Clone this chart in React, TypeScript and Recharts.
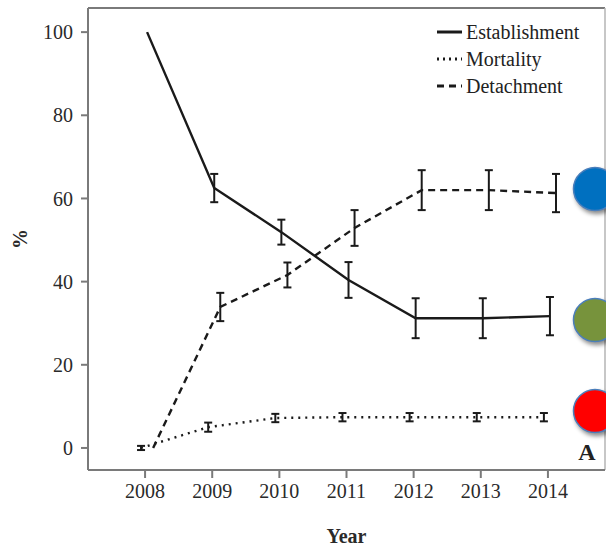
import React from 'react';
import { LineChart, Line, XAxis, YAxis, ErrorBar, ReferenceLine } from 'recharts';

const years = [2008, 2009, 2010, 2011, 2012, 2013, 2014];
const establishment = [100, 62.5, 51.9, 40.4, 31.2, 31.2, 31.7];
const establishmentErr = [0, 3.4, 3.0, 4.3, 4.8, 4.8, 4.6];
const mortality = [0, 5.0, 7.2, 7.4, 7.4, 7.4, 7.4];
const mortalityErr = [0.5, 1.1, 1.0, 1.0, 1.0, 1.0, 1.0];
const detachment = [0, 33.9, 41.6, 52.9, 62.0, 62.0, 61.3];
const detachmentErr = [0, 3.4, 3.0, 4.3, 4.8, 4.8, 4.6];
const yTicks = [0, 20, 40, 60, 80, 100];
const seriesNames = ['Establishment', 'Mortality', 'Detachment'];
const panelLabel = 'A';

const data = years.map((y, i) => ({
  year: y,
  establishment: establishment[i],
  establishmentErr: establishmentErr[i],
  mortality: mortality[i],
  mortalityErr: mortalityErr[i],
  detachment: detachment[i],
  detachmentErr: detachmentErr[i],
}));

const FONT = '"Liberation Serif", "Times New Roman", serif';
const AXIS = '#7a7a7a';
const INK = '#1a1a1a';
const X_DOMAIN: [number, number] = [2007.15, 2014.85];
const Y_DOMAIN: [number, number] = [-5.3, 105.8];

const dashes = ['', '2 4', '7 5'];

export default function App() {
  return (
    <div style={{ position: 'absolute', left: 0, top: 0, width: 606, height: 548, background: '#fff' }}>
      <LineChart width={606} height={548} data={data} margin={{ top: 8, right: 1, left: 0, bottom: 0 }}>
        <XAxis
          xAxisId="main"
          dataKey="year"
          type="number"
          domain={X_DOMAIN}
          allowDataOverflow
          ticks={years}
          height={78}
          tickSize={8}
          tickMargin={6}
          stroke={AXIS}
          strokeWidth={2}
          tick={{ fontFamily: FONT, fontSize: 20, fill: '#2a2a2a' }}
          label={{ value: 'Year', position: 'insideBottom', offset: 5, style: { fontFamily: FONT, fontSize: 20, fontWeight: 'bold', fill: '#2a2a2a' } }}
        />
        <XAxis xAxisId="est" orientation="top" height={0} dataKey="year" type="number" domain={[2007.12, 2014.82]} allowDataOverflow hide />
        <XAxis xAxisId="mor" orientation="top" height={0} dataKey="year" type="number" domain={[2007.21, 2014.91]} allowDataOverflow hide />
        <XAxis xAxisId="det" orientation="top" height={0} dataKey="year" type="number" domain={[2007.03, 2014.73]} allowDataOverflow hide />
        <YAxis
          type="number"
          domain={Y_DOMAIN}
          allowDataOverflow
          ticks={yTicks}
          width={88}
          tickSize={7}
          tickMargin={8}
          stroke={AXIS}
          strokeWidth={2}
          tick={{ fontFamily: FONT, fontSize: 20, fill: '#2a2a2a' }}
          label={{ value: '%', angle: -90, position: 'insideLeft', offset: 20, style: { fontFamily: FONT, fontSize: 20, fontWeight: 'bold', fill: '#2a2a2a', textAnchor: 'middle' } }}
        />
        <ReferenceLine xAxisId="main" y={Y_DOMAIN[1]} stroke={AXIS} strokeWidth={2} />
        <ReferenceLine xAxisId="main" x={X_DOMAIN[1]} stroke="#b5b5b5" strokeWidth={1.5} />
        <Line xAxisId="est" dataKey="establishment" name={seriesNames[0]} stroke={INK} strokeWidth={2.4} dot={false} isAnimationActive={false} type="linear">
          <ErrorBar dataKey="establishmentErr" direction="y" width={4} stroke={INK} strokeWidth={2} isAnimationActive={false} />
        </Line>
        <Line xAxisId="mor" dataKey="mortality" name={seriesNames[1]} stroke={INK} strokeWidth={2.4} strokeDasharray="2 5" dot={false} isAnimationActive={false} type="linear">
          <ErrorBar dataKey="mortalityErr" direction="y" width={4} stroke={INK} strokeWidth={2} isAnimationActive={false} />
        </Line>
        <Line xAxisId="det" dataKey="detachment" name={seriesNames[2]} stroke={INK} strokeWidth={2.4} strokeDasharray="7 5" dot={false} isAnimationActive={false} type="linear">
          <ErrorBar dataKey="detachmentErr" direction="y" width={4} stroke={INK} strokeWidth={2} isAnimationActive={false} />
        </Line>
      </LineChart>
      <svg width={606} height={548} style={{ position: 'absolute', left: 0, top: 0, pointerEvents: 'none' }}>
        {seriesNames.map((n, i) => (
          <g key={n} transform={`translate(437, ${32 + i * 27})`}>
            <line x1={0} x2={25} y1={0} y2={0} stroke={INK} strokeWidth={3} strokeDasharray={dashes[i]} />
            <text x={29} y={0} dy="0.35em" fontFamily={FONT} fontSize={20} fill="#222">{n}</text>
          </g>
        ))}
        <g style={{ filter: 'drop-shadow(2px 3px 2px rgba(0,0,0,0.45))' }}>
          <circle cx={595} cy={189} r={21.5} fill="#0070C0" stroke="#4A7EBB" strokeWidth={1.5} />
          <circle cx={595} cy={320} r={21.5} fill="#77933C" stroke="#4A7EBB" strokeWidth={1.5} />
          <circle cx={595} cy={411} r={21.5} fill="#FF0000" stroke="#4A7EBB" strokeWidth={1.5} />
        </g>
        <text x={587} y={452} dy="0.35em" textAnchor="middle" fontFamily={FONT} fontSize={24} fontWeight="bold" fill="#222">{panelLabel}</text>
      </svg>
    </div>
  );
}
